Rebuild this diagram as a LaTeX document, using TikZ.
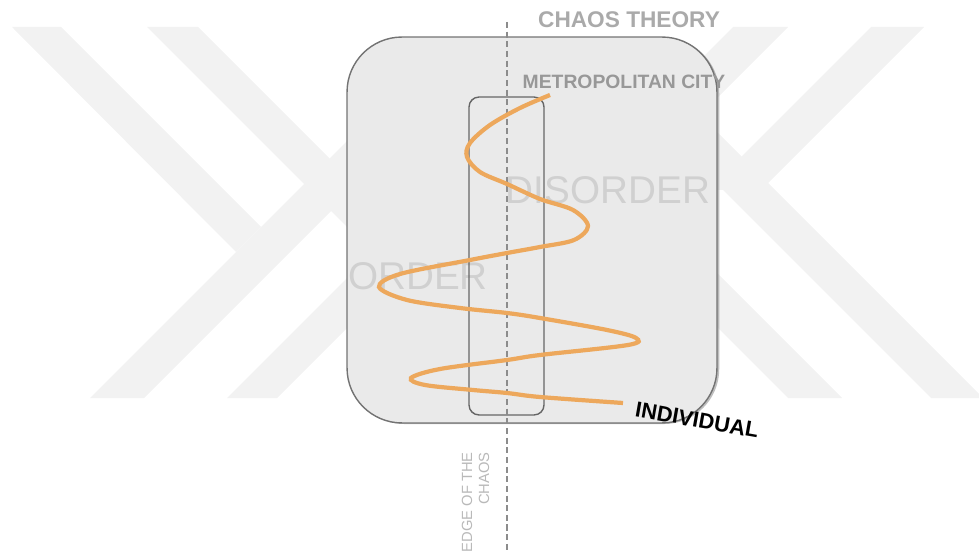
\documentclass[tikz,border=0pt]{standalone}
\usepackage{fontspec}
\setmainfont{Liberation Sans}
\usetikzlibrary{positioning, shadows}
\definecolor{wmark}{RGB}{242,242,242}
\definecolor{boxfill}{RGB}{234,234,234}
\definecolor{spiral}{RGB}{237,168,92}
\definecolor{headgray}{RGB}{170,170,170}
\definecolor{citygray}{RGB}{152,152,152}
\definecolor{zonegray}{RGB}{208,208,208}
\definecolor{edgegray}{RGB}{185,185,185}
\tikzstyle{stripe} = [fill=wmark, draw=none]
\tikzstyle{cityframe} = [rectangle, minimum width=7.4cm, minimum height=7.72cm, rounded corners=1.1cm, draw=black!55, line width=0.8pt, fill=boxfill, drop shadow={opacity=0.5, shadow xshift=1.3pt, shadow yshift=-0.6pt}]
\tikzstyle{edgeframe} = [rectangle, minimum width=1.5cm, minimum height=6.36cm, rounded corners=0.2cm, draw=black!60, line width=0.8pt]
\tikzstyle{divider} = [draw=black!45, line width=1pt, dash pattern=on 3.5pt off 2pt]
\tikzstyle{spiralline} = [draw=spiral, line width=2.4pt]
\tikzstyle{headtext} = [inner sep=0pt, text=headgray, font=\bfseries\fontsize{12.9pt}{15pt}\selectfont]
\tikzstyle{citytext} = [inner sep=0pt, text=citygray, font=\bfseries\fontsize{11pt}{13pt}\selectfont]
\tikzstyle{zonetext} = [inner sep=0pt, text=zonegray, font=\fontsize{22pt}{26pt}\selectfont]
\tikzstyle{persontext} = [inner sep=0pt, text=black, font=\bfseries\fontsize{12.4pt}{14pt}\selectfont]
\tikzstyle{edgetext} = [inner sep=0pt, text=edgegray, rotate=90, anchor=east, font=\fontsize{8.4pt}{9.7pt}\selectfont]
\begin{document}
\begin{tikzpicture}[x=0.02cm, y=-0.02cm]
\useasboundingbox (0,0) rectangle (979,553);

% watermark, left half:
\fill[stripe] (12,27) -- (61,27) -- (261,227) -- (236,252) -- cycle;
\fill[stripe] (90,398) -- (144,398) -- (400,142) -- (400,88) -- cycle;
\fill[stripe] (147,27) -- (198,27) -- (400,229) -- (400,280) -- cycle;
\fill[stripe] (227,398) -- (277,398) -- (400,275) -- (400,225) -- cycle;

% watermark, right half:
\fill[stripe] (871,27) -- (924,27) -- (761,190) -- (708,190) -- cycle;
\fill[stripe] (931,398) -- (983,398) -- (700,115) -- (700,167) -- cycle;
\fill[stripe] (733,27) -- (788,27) -- (680,135) -- (680,80) -- cycle;
\fill[stripe] (788,398) -- (842,398) -- (680,236) -- (680,290) -- cycle;

% chaos theory box:
\node(city)[cityframe] at (532,230) {};

% order / disorder zones:
\node(disorder)[zonetext] at (608,190) {DISORDER};
\node(order)[zonetext] at (418,276) {ORDER};

% edge of the chaos box:
\node(edge)[edgeframe] at (506.5,256) {};

% dashed divider:
\coordinate(divtop) at (507,22);
\coordinate(divbot) at (507,553);
\draw[divider] (divtop) -- (divbot);

% path from individual up to the city:
\draw[spiralline] plot[smooth, tension=0.55] coordinates {
  (550,95) (520,108) (490,125) (470,143) (467,157) (480,172) (507,184)
  (540,199) (573,210) (588,226) (574,240) (540,247) (507,253) (470,260)
  (400,274) (379,287) (407,300) (460,308) (507,313) (540,318) (607,330)
  (636,338) (628,345) (540,355) (507,360) (440,369) (411,378) (425,385)
  (473,390) (507,393) (540,397) (623,403)};

% labels:
\node(theory)[headtext] at (629,20) {CHAOS THEORY};
\node(metro)[citytext] at (624,82) {METROPOLITAN CITY};
\node(individual)[persontext, rotate=-10] at (697,420) {INDIVIDUAL};
\node(edgeline)[edgetext] at (467,452) {EDGE OF THE};
\node(chaosline)[edgetext] at (484,452) {CHAOS};

\end{tikzpicture}
\end{document}
